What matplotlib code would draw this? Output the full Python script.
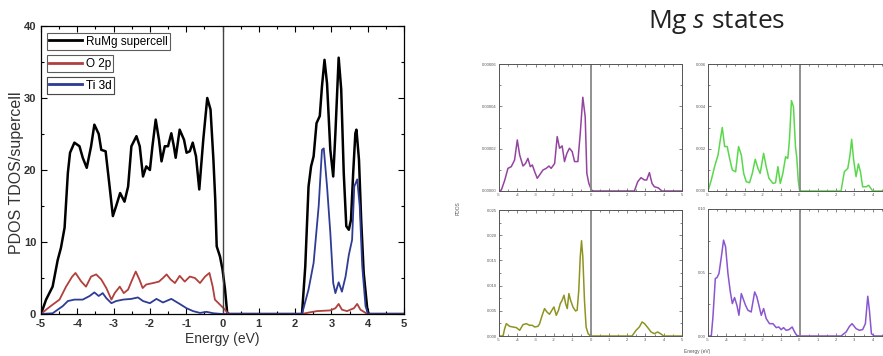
import matplotlib
matplotlib.use("Agg")
import matplotlib.pyplot as plt
from matplotlib.ticker import MultipleLocator
from matplotlib.lines import Line2D

plt.rcParams['font.family'] = ['Liberation Sans', 'DejaVu Sans']
plt.rcParams['mathtext.fontset'] = 'custom'
plt.rcParams['mathtext.rm'] = 'Open Sans'
plt.rcParams['mathtext.it'] = 'Open Sans:italic'
plt.rcParams['axes.unicode_minus'] = False

# ---- left panel: total DOS and projected DOS ----
e_tot = [-5, -4.86, -4.68, -4.54, -4.45, -4.35, -4.26, -4.2, -4.08, -3.94, -3.85, -3.74, -3.62,
         -3.53, -3.41, -3.34, -3.22, -3.11, -3.02, -2.93, -2.82, -2.7, -2.6, -2.51, -2.37,
         -2.28, -2.19, -2.1, -2.0, -1.93, -1.84, -1.75, -1.68, -1.59, -1.5, -1.41, -1.34,
         -1.29, -1.18, -1.06, -0.99, -0.9, -0.82, -0.73, -0.64, -0.53, -0.42, -0.33, -0.25,
         -0.2, -0.16, -0.07, 0.0, 0.07, 0.13, 0.2,
         2.19, 2.28, 2.37, 2.44, 2.51, 2.59, 2.68, 2.74, 2.81, 2.88, 2.97, 3.05, 3.11, 3.2,
         3.27, 3.34, 3.41, 3.48, 3.54, 3.6, 3.66, 3.69, 3.76, 3.82, 3.89, 3.99, 4.03, 5]
dos_tot = [0, 2, 3.8, 7.5, 9.2, 12, 19.6, 22.4, 23.8, 23.3, 21.7, 20.3, 23.3,
           26.3, 25, 22.8, 22.6, 17.7, 13.6, 15, 16.8, 15.6, 17.7, 23.3, 24.7,
           23.3, 19.1, 20.5, 20, 23.3, 27, 24.2, 21.2, 23.3, 23.3, 25.1, 23.3,
           21.7, 25.6, 24.2, 22.4, 22.6, 23.8, 21.9, 17.3, 24.2, 30, 28.4, 21.4,
           15.9, 9.4, 8, 6.2, 3.4, 0.1, 0,
           0, 6.6, 17.7, 20.5, 21.9, 26.5, 27.5, 31.6, 35.3, 32, 22.8, 19.1, 25.1, 35.6,
           31.2, 19.6, 12.2, 11.7, 13.1, 19.6, 25.1, 25.6, 21.4, 13.1, 5.7, 0.6, 0, 0]

e_o2p = [-5, -4.86, -4.68, -4.49, -4.31, -4.14, -4.05, -3.89, -3.76, -3.62, -3.48, -3.34, -3.2,
         -3.06, -2.97, -2.83, -2.72, -2.6, -2.51, -2.39, -2.29, -2.2, -2.1, -1.91, -1.75,
         -1.64, -1.54, -1.43, -1.31, -1.18, -1.04, -0.9, -0.76, -0.62, -0.48, -0.36, -0.27,
         -0.21, -0.07, 0.07, 0.16,
         2.19, 2.37, 2.6, 2.97, 3.11, 3.2, 3.29, 3.43, 3.62, 3.71, 3.8, 3.99, 5]
dos_o2p = [0, 0.6, 1.3, 2, 3.8, 5.2, 5.7, 4.5, 3.8, 5.2, 5.5, 4.8, 3.6,
           2, 2.9, 3.8, 2.9, 3.4, 4.5, 5.9, 4.8, 3.6, 4.1, 4.3, 4.5,
           5, 5.5, 4.8, 4.3, 5.3, 4.5, 5.2, 5, 4.3, 5.2, 5.7, 3.8,
           2, 1.3, 0.6, 0,
           0, 0.2, 0.4, 0.5, 0.8, 1.4, 0.6, 0.4, 0.8, 1.4, 0.6, 0, 0]

e_ti3d = [-5, -4.68, -4.54, -4.4, -4.26, -4.08, -3.85, -3.66, -3.53, -3.41, -3.3, -3.2, -3.06,
          -2.93, -2.74, -2.51, -2.33, -2.19, -2.0, -1.82, -1.64, -1.41, -1.18, -0.99, -0.81,
          -0.62, -0.44, -0.25, 0.0,
          2.19, 2.37, 2.51, 2.65, 2.74, 2.79, 2.88, 2.97, 3.05, 3.11, 3.2, 3.29, 3.39, 3.48,
          3.57, 3.63, 3.71, 3.78, 3.85, 3.94, 4.01, 5]
dos_ti3d = [0, 0.1, 0.6, 1.1, 1.8, 2, 2, 2.5, 3, 2.5, 2.9, 2.2, 1.5,
            1.8, 2, 2.1, 2.3, 1.8, 1.5, 2.1, 1.6, 2.1, 1.4, 0.8, 0.4,
            0.15, 0.3, 0.1, 0,
            0, 3.4, 7.1, 15, 22.8, 23, 17.7, 11.3, 4.3, 2.9, 4.4, 3.1, 5.2, 8.2,
            10.3, 17.7, 18.7, 15, 6.6, 1.1, 0, 0]

# ---- right panel: Mg s states, four sites ----
e_mg1 = [-5, -4.87, -4.69, -4.51, -4.33, -4.15, -4.0, -3.87, -3.69, -3.55, -3.42, -3.29, -3.18,
         -3.05, -2.91, -2.78, -2.6, -2.42, -2.27, -2.15, -1.96, -1.82, -1.69, -1.55, -1.42,
         -1.29, -1.15, -1.0, -0.87, -0.69, -0.56, -0.42, -0.29, -0.2, -0.09, 0.05, 0.15,
         2.4, 2.58, 2.76, 2.95, 3.07, 3.22, 3.36, 3.49, 3.7, 3.9, 5]
pdos_mg1 = [0, 0.05, 0.5, 1.07, 1.15, 1.46, 2.41, 1.7, 1.18, 1.3, 1.54, 1.15, 1.23,
            0.91, 0.6, 0.76, 0.99, 1.07, 1.18, 1.07, 1.3, 2.57, 2.02, 2.13, 1.39,
            1.78, 2.02, 1.86, 1.39, 1.39, 2.72, 4.43, 3.51, 0.83, 0.36, 0.05, 0,
            0, 0.44, 0.63, 0.52, 0.52, 0.87, 0.36, 0.2, 0.15, 0, 0]  # x 1e-5

e_mg2 = [-5, -4.82, -4.64, -4.45, -4.33, -4.22, -4.09, -3.95, -3.82, -3.67, -3.49, -3.33, -3.18,
         -3.05, -2.91, -2.73, -2.58, -2.42, -2.27, -2.15, -1.96, -1.82, -1.67, -1.45, -1.31,
         -1.18, -1.05, -0.91, -0.76, -0.64, -0.55, -0.44, -0.33, -0.22, -0.15, -0.07, 0.0, 0.1,
         2.27, 2.45, 2.64, 2.76, 2.85, 2.96, 3.09, 3.22, 3.33, 3.45, 3.64, 3.78, 4.0, 5]
pdos_mg2 = [0, 0.52, 1.15, 1.7, 2.41, 3.0, 2.1, 2.1, 1.54, 0.99, 0.91, 2.1, 1.7,
            0.83, 0.44, 0.39, 0.83, 1.5, 1.07, 0.83, 1.78, 1.15, 0.6, 0.36, 0.39,
            1.15, 0.36, 0.83, 1.62, 1.54, 2.41, 4.27, 3.98, 2.1, 1.59, 0.52, 0.05, 0,
            0, 0.91, 1.07, 1.7, 2.44, 1.46, 0.68, 1.28, 0.91, 0.2, 0.2, 0.27, 0, 0]  # x 1e-3

e_mg3 = [-5, -4.78, -4.69, -4.6, -4.42, -4.24, -4.05, -3.87, -3.69, -3.51, -3.33, -3.18, -3.05,
         -2.87, -2.78, -2.64, -2.51, -2.38, -2.24, -2.11, -2.0, -1.87, -1.75, -1.65, -1.55,
         -1.45, -1.36, -1.27, -1.18, -1.09, -0.96, -0.82, -0.73, -0.64, -0.56, -0.49, -0.42,
         -0.33, -0.24, -0.13, 0.0,
         2.27, 2.49, 2.67, 2.82, 2.95, 3.13, 3.31, 3.49, 3.67, 3.85, 4.0, 5]
pdos_mg3 = [0, 0, 1.46, 2.45, 1.92, 1.79, 1.66, 1.13, 2.25, 2.45, 2.12, 2.12, 1.79,
            1.92, 2.45, 4.11, 5.44, 4.77, 4.31, 5.11, 5.77, 4.11, 5.11, 6.43, 7.1,
            8.09, 6.43, 5.44, 8.42, 7.1, 5.77, 4.97, 5.11, 9.08, 15.7, 18.9, 15.7,
            7.1, 1.79, 0.46, 0,
            0, 1.13, 1.79, 2.79, 2.45, 1.66, 0.8, 0.46, 0.8, 0.4, 0, 0]  # x 1e-3

e_mg4 = [-5, -4.82, -4.73, -4.6, -4.51, -4.4, -4.27, -4.15, -4.04, -3.91, -3.78, -3.67, -3.55,
         -3.42, -3.31, -3.18, -3.05, -2.95, -2.82, -2.64, -2.45, -2.33, -2.22, -2.09, -1.96,
         -1.82, -1.64, -1.45, -1.27, -1.13, -1.0, -0.87, -0.73, -0.58, -0.4, -0.27, -0.15, 0.0,
         2.27, 2.55, 2.73, 2.87, 3.09, 3.27, 3.45, 3.6, 3.73, 3.82, 3.93, 4.09, 5]
pdos_mg4 = [0, 0, 1.5, 4.53, 4.6, 4.92, 6.24, 7.55, 7.03, 4.92, 3.47, 2.55, 3.03,
            2.42, 1.63, 3.34, 2.82, 2.42, 2.03, 1.89, 3.47, 3.08, 2.42, 1.63, 2.16,
            1.37, 0.97, 0.97, 0.66, 0.71, 0.5, 0.66, 0.45, 0.5, 0.71, 0.32, 0.05, 0,
            0, 0.32, 0.76, 0.97, 0.58, 0.45, 0.5, 0.97, 3.13, 2.03, 0.18, 0, 0]  # x 1e-2

W, H = 883, 356
fig = plt.figure(figsize=(W / 100, H / 100), dpi=100)
fig.patch.set_facecolor('white')


def px_axes(x0, y0, x1, y1):
    return fig.add_axes([x0 / W, 1 - y1 / H, (x1 - x0) / W, (y1 - y0) / H])


# left panel
ax = px_axes(41, 26, 404, 314)
l1, = ax.plot(e_tot, dos_tot, color='black', lw=1.8)
l2, = ax.plot(e_o2p, dos_o2p, color='#b0403c', lw=1.3)
l3, = ax.plot(e_ti3d, dos_ti3d, color='#2e3c94', lw=1.3)
ax.axvline(0, color='#444444', lw=1.0)
ax.set_xlim(-5, 5)
ax.set_ylim(0, 40)
ax.xaxis.set_major_locator(MultipleLocator(1))
ax.xaxis.set_minor_locator(MultipleLocator(0.5))
ax.yaxis.set_major_locator(MultipleLocator(10))
ax.yaxis.set_minor_locator(MultipleLocator(5))
ax.tick_params(which='both', direction='in', top=True, right=True, labelsize=8, width=0.8)
ax.tick_params(which='major', length=4)
ax.tick_params(which='minor', length=2.5)
for lab in ax.get_xticklabels() + ax.get_yticklabels():
    lab.set_fontweight('bold')
    lab.set_color('#333333')
ax.set_xlabel('Energy (eV)', fontsize=10, color='#333333', labelpad=2)
ax.set_ylabel('PDOS TDOS/supercell', fontsize=11.5, color='#333333')
ax.yaxis.set_label_coords(-0.046, 0.49)
for s in ax.spines.values():
    s.set_linewidth(0.9)

# three separate legend boxes, as in the original figure
leg_tops = [0.975, 0.898, 0.822]
leg_items = [(l1, 'RuMg supercell'), (l2, 'O 2p'), (l3, 'Ti 3d')]
for (h, lab), top in zip(leg_items, leg_tops):
    leg = ax.legend([Line2D([], [], color=h.get_color(), lw=2.0)], [lab],
                    loc='upper left', bbox_to_anchor=(0.016, top), fontsize=8.5,
                    frameon=True, fancybox=False, edgecolor='#333333',
                    borderpad=0.2, handlelength=2.8, handletextpad=0.3,
                    borderaxespad=0)
    leg.get_frame().set_linewidth(0.8)
    ax.add_artist(leg)

# right panel
fig.text(717 / W, 1 - 22 / H, r'Mg $s$ states', fontsize=19, family='Open Sans',
         ha='center', va='center', color='#222222')

small = [
    ((499, 64, 682, 191), e_mg1, [v * 1e-5 for v in pdos_mg1], '#9444a0', 6e-5, 2e-5, '{:.5f}', 5),
    ((708, 64, 891, 191), e_mg2, [v * 1e-3 for v in pdos_mg2], '#5ad84c', 6e-3, 2e-3, '{:.3f}', 4),
    ((499, 210, 682, 336), e_mg3, [v * 1e-3 for v in pdos_mg3], '#8f9420', 25e-3, 5e-3, '{:.3f}', 5),
    ((708, 209, 891, 336), e_mg4, [v * 1e-2 for v in pdos_mg4], '#8a55d0', 0.1, 0.05, '{:.2f}', 4),
]
for (x0, y0, x1, y1), ex, yy, col, ymax, ystep, fmt, xlast in small:
    a = px_axes(x0, y0, x1, y1)
    a.plot(ex, yy, color=col, lw=1.1)
    a.axvline(0, color='#888888', lw=1.3)
    a.set_xlim(-5, 5)
    a.set_ylim(0, ymax)
    a.set_xticks(range(-5, 6))
    a.set_xticklabels([str(v) if v <= xlast else '' for v in range(-5, 6)])
    a.xaxis.set_minor_locator(MultipleLocator(0.5))
    yt = [i * ystep for i in range(int(round(ymax / ystep)) + 1)]
    a.set_yticks(yt)
    a.set_yticklabels([fmt.format(v) for v in yt])
    a.yaxis.set_minor_locator(MultipleLocator(ystep / 2))
    a.tick_params(which='both', direction='in', top=True, right=True, labelsize=3,
                  width=0.5, length=2, pad=1.5, colors='#555555')
    a.tick_params(which='minor', length=1.2)
    for s in a.spines.values():
        s.set_linewidth(0.7)
        s.set_color('#555555')

fig.text(458 / W, 1 - 208 / H, 'PDOS', fontsize=3.5, rotation=90, ha='center',
         va='center', color='#555555')
fig.text(697 / W, 1 - 352 / H, 'Energy (eV)', fontsize=3.5, ha='center',
         va='center', color='#555555')

fig.savefig('out.png', dpi=100)
